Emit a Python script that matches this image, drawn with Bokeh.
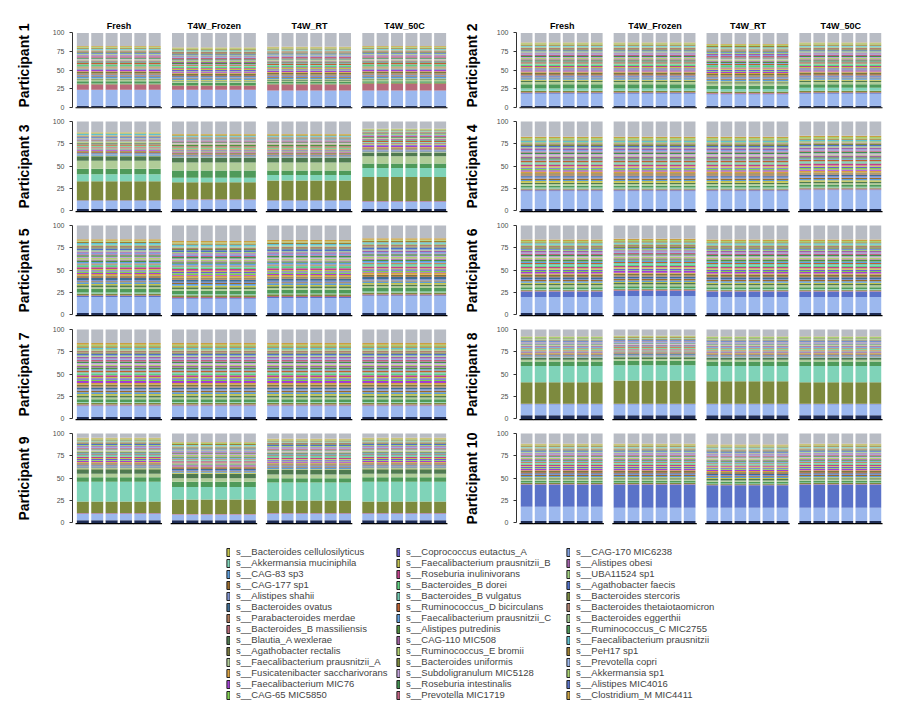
from bokeh.plotting import figure
from bokeh.models import ColumnDataSource, FactorRange, Range1d, Legend, LegendItem, FixedTicker
from bokeh.layouts import gridplot, column
from bokeh.core.properties import value
from bokeh.embed import file_html
from bokeh.resources import INLINE

CONDITIONS = ["Fresh", "T4W_Frozen", "T4W_RT", "T4W_50C"]
REPS = ["1", "2", "3", "4", "5", "6"]
PARTICIPANTS = ["Participant %d" % i for i in range(1, 11)]

# legend species (legend order) and colours
SPECIES = [
    "s__Bacteroides cellulosilyticus", "s__Akkermansia muciniphila", "s__CAG-83 sp3", "s__CAG-177 sp1",
    "s__Alistipes shahii", "s__Bacteroides ovatus", "s__Parabacteroides merdae", "s__Bacteroides_B massiliensis",
    "s__Blautia_A wexlerae", "s__Agathobacter rectalis", "s__Faecalibacterium prausnitzii_A",
    "s__Fusicatenibacter saccharivorans", "s__Faecalibacterium MIC76", "s__CAG-65 MIC5850",
    "s__Coprococcus eutactus_A", "s__Faecalibacterium prausnitzii_B", "s__Roseburia inulinivorans",
    "s__Bacteroides_B dorei", "s__Bacteroides_B vulgatus", "s__Ruminococcus_D bicirculans",
    "s__Faecalibacterium prausnitzii_C", "s__Alistipes putredinis", "s__CAG-110 MIC508",
    "s__Ruminococcus_E bromii", "s__Bacteroides uniformis", "s__Subdoligranulum MIC5128",
    "s__Roseburia intestinalis", "s__Prevotella MIC1719",
    "s__CAG-170 MIC6238", "s__Alistipes obesi", "s__UBA11524 sp1", "s__Agathobacter faecis",
    "s__Bacteroides stercoris", "s__Bacteroides thetaiotaomicron", "s__Bacteroides eggerthii",
    "s__Ruminococcus_C MIC2755", "s__Faecalibacterium prausnitzii", "s__PeH17 sp1", "s__Prevotella copri",
    "s__Akkermansia sp1", "s__Alistipes MIC4016", "s__Clostridium_M MIC4411",
]
COLORS = [
    "#c4c44c", "#7fd3b8", "#5b9bd8", "#9a6b2a", "#7f93d0", "#3f6e94", "#b07a5a", "#b86a7a",
    "#4f7a50", "#7a7a40", "#b0cc98", "#d8a040", "#a040d0", "#80d050",
    "#6b5fd0", "#c0c050", "#c0408a", "#60d080", "#70c8b0", "#c06030", "#60a0e0", "#509040",
    "#a060a0", "#b0d070", "#7d8a3e", "#c0a0d8", "#409050", "#c06080",
    "#80a0e0", "#a060a8", "#a0d080", "#5070c8", "#7a8a40", "#b08070", "#a0c890", "#4f9a5a",
    "#60c0d0", "#a08030", "#9cb8ee", "#a8d070", "#5a72c8", "#c8a040",
]

# stacking order (bottom first): unlabelled low group, 8 major species, then the rest
MAJOR_NAMES = ["s__Prevotella copri", "s__Alistipes MIC4016", "s__Bacteroides_B massiliensis",
               "s__Bacteroides uniformis", "s__Akkermansia muciniphila", "s__Ruminococcus_C MIC2755",
               "s__Faecalibacterium prausnitzii_A", "s__Blautia_A wexlerae"]
MINOR_NAMES = [s for s in SPECIES if s not in MAJOR_NAMES]
LOW_COLOR = "#1f2d55"
OTHER_COLOR = "#b8bcc4"

# major values per participant per condition: [low, copri, MIC4016, massiliensis, uniformis, muciniphila, RumC, FpA, Blautia]
MAJORS = {
    1: [[2, 21, 0.5, 7, 1, 0.5, 3, 1.5, 1], [2, 21, 0.5, 5, 1, 0.5, 3, 1.5, 1], [2, 20, 0.5, 8, 1, 0.5, 2, 1.5, 1], [2, 20, 0.5, 9, 1, 0.5, 2, 1.5, 1]],
    2: [[2, 16, 1, 1, 2, 3, 6, 3, 1.5], [2, 16, 1, 1, 2, 3, 6, 3, 1.5], [2, 15, 1, 1, 2, 3, 5, 3, 1.5], [2, 16, 1, 1, 2, 4, 5, 3, 1.5]],
    3: [[2, 9, 0.5, 0.5, 21, 8, 6, 9, 5], [2, 10, 0.5, 0.5, 19, 5, 8, 9, 5], [2, 9, 0.5, 0.5, 22, 6, 5, 9, 5], [2, 8, 0.5, 0.5, 27, 10, 5, 8, 4]],
    4: [[2, 20, 1, 1, 1, 1, 2, 2, 1.5], [2, 20, 1, 1, 1, 1, 2, 2, 1.5], [2, 20, 1, 1, 1, 1, 2, 2, 1.5], [2, 21, 1, 1, 1, 1, 2, 2, 1.5]],
    5: [[2, 18, 1, 1, 2, 1, 4, 2, 2], [2, 16, 1, 1, 2, 1, 4, 2, 2], [2, 17, 1, 1, 2, 1, 4, 2, 2], [2, 19, 1, 1, 2, 1, 4, 2, 2]],
    6: [[2, 18, 6, 1, 1, 1, 2, 2, 1.5], [2, 19, 6, 1, 1, 1, 2, 2, 1.5], [2, 18, 6, 1, 1, 1, 2, 2, 1.5], [2, 18, 6, 1, 1, 1, 2, 2, 1.5]],
    7: [[2, 12, 1, 1, 2, 1, 3, 2, 2], [2, 12, 1, 1, 2, 1, 3, 2, 2], [2, 12, 1, 1, 2, 1, 3, 2, 2], [2, 12, 1, 1, 2, 1, 3, 2, 2]],
    8: [[4, 12, 0.5, 0.5, 24, 18, 5, 2, 2], [4, 12, 0.5, 0.5, 26, 17, 5, 2, 2], [4, 12, 0.5, 0.5, 25, 17, 5, 2, 2], [4, 12, 0.5, 0.5, 24, 18, 5, 2, 2]],
    9: [[3, 7, 0.5, 0.5, 13, 22, 5, 4, 5], [3, 6, 0.5, 0.5, 16, 14, 6, 4, 5], [3, 7, 0.5, 0.5, 14, 20, 5, 4, 5], [3, 7, 0.5, 0.5, 13, 22, 5, 4, 5]],
    10: [[2, 16, 25, 0.5, 1, 0.5, 2, 1.5, 1.5], [2, 15, 26, 0.5, 1, 0.5, 2, 1.5, 1.5], [2, 15, 25, 0.5, 1, 0.5, 2, 1.5, 1.5], [2, 15, 26, 0.5, 1, 0.5, 2, 1.5, 1.5]],
}

# minor species values per participant (MINOR_NAMES order)
MINORS = {
    1: [1.2,1.8,1.0,1.5,0.8,1.6,2.0,1.1,1.4,0.9,1.3,1.7,1.0,1.9,1.2,1.5,0.8,1.4,1.1,1.6,1.0,1.3,1.8,1.2,0.9,1.5,1.1,1.4,1.7,1.0,1.3,1.6,1.2,1.0],
    2: [1.4,2.0,1.2,1.7,1.0,1.8,2.2,1.3,1.6,1.1,1.5,1.9,1.2,2.1,1.4,1.7,1.0,1.6,1.3,1.8,1.2,1.5,2.0,1.4,1.1,1.7,1.3,1.6,1.9,1.2,1.5,1.8,1.4,1.2],
    3: [0.6,1.0,0.5,0.9,0.7,1.2,0.8,0.6,1.1,0.5,0.9,1.0,0.7,0.8,0.6,1.2,0.5,0.9,0.7,1.0,0.6,0.8,1.1,0.7,0.5,0.9,0.8,0.6,1.0,0.7,0.9,0.6,0.8,0.7],
    4: [1.8,1.2,1.6,2.0,1.3,1.5,1.1,1.9,1.4,1.7,1.2,1.6,2.1,1.0,1.5,1.8,1.3,1.4,1.9,1.1,1.6,1.7,1.2,1.5,2.0,1.3,1.4,1.8,1.1,1.6,1.5,1.2,1.7,1.4],
    5: [1.5,1.9,1.1,1.6,2.2,1.2,1.4,1.8,1.0,1.7,1.5,1.3,2.0,1.4,1.6,1.1,1.9,1.5,1.2,1.8,1.4,1.6,1.0,1.7,1.5,1.3,2.1,1.2,1.6,1.4,1.8,1.5,1.1,1.7],
    6: [1.3,1.7,1.5,1.1,1.9,1.4,1.6,1.2,1.8,1.0,1.5,1.7,1.3,1.4,2.0,1.2,1.6,1.5,1.1,1.8,1.3,1.4,1.7,1.2,1.6,1.5,1.0,1.9,1.4,1.3,1.6,1.2,1.5,1.4],
    7: [1.8,2.1,1.5,1.7,2.0,1.4,1.9,1.6,2.2,1.5,1.8,1.3,2.0,1.7,1.6,1.9,1.4,2.1,1.5,1.8,1.7,1.6,2.0,1.4,1.9,1.5,1.8,1.6,1.7,2.0,1.5,1.8,1.6,1.9],
    8: [0.6,0.8,0.5,0.9,0.7,0.6,1.0,0.5,0.8,0.7,0.6,0.9,0.5,0.8,0.7,1.0,0.6,0.5,0.8,0.7,0.9,0.6,0.5,0.8,0.7,0.6,0.9,0.7,0.5,0.8,0.6,0.7,0.9,0.6],
    9: [1.0,1.3,0.8,1.1,0.9,1.2,1.0,0.8,1.4,0.9,1.1,1.0,1.3,0.8,1.2,0.9,1.0,1.1,0.8,1.3,1.0,0.9,1.2,1.1,0.8,1.0,1.3,0.9,1.1,1.0,0.8,1.2,1.0,0.9],
    10: [1.1,1.4,0.9,1.2,1.0,1.3,1.1,0.9,1.5,1.0,1.2,1.1,1.4,0.9,1.3,1.0,1.1,1.2,0.9,1.4,1.1,1.0,1.3,1.2,0.9,1.1,1.4,1.0,1.2,1.1,0.9,1.3,1.1,1.0],
}

FONT = "Liberation Sans"
color_of = dict(zip(SPECIES, COLORS))
stack_colors = [LOW_COLOR] + [color_of[s] for s in MAJOR_NAMES] + [color_of[s] for s in MINOR_NAMES] + [OTHER_COLOR]
keys = ["c%d" % i for i in range(len(stack_colors))]

factors = [(c, r) for c in CONDITIONS for r in REPS]


def make_panel(pi, top_row, left_col):
    data = {"x": factors}
    for k in keys:
        data[k] = []
    for ci, c in enumerate(CONDITIONS):
        vals = MAJORS[pi][ci] + MINORS[pi]
        vals = vals + [max(0.0, 100.0 - sum(vals))]
        for r in REPS:
            for k, v in zip(keys, vals):
                data[k].append(v)
    data["base_top"] = [0.0] * len(factors)
    data["base_bot"] = [-1.8] * len(factors)
    src = ColumnDataSource(data)
    w = 460 if left_col else 428
    ytop = 114 if top_row else 101
    h = 116 if top_row else 104
    p = figure(x_range=FactorRange(*factors, group_padding=0.75, factor_padding=0.08, range_padding=0.02),
               y_range=Range1d(-1.8, ytop), width=w, height=h,
               output_backend="svg", toolbar_location=None,
               min_border_left=72 if left_col else 49, min_border_right=10 if left_col else 3,
               min_border_top=22 if top_row else 4, min_border_bottom=8)
    p.vbar_stack(keys, x="x", width=0.9, source=src, color=stack_colors, line_color=None)
    p.vbar(x="x", top="base_top", bottom="base_bot", width=1.1, source=src, color="black", line_color=None)
    if top_row:
        p.text(x=[(c, "3") for c in CONDITIONS], y=[109] * 4, text=CONDITIONS, x_offset=7.5,
               text_align="center", text_baseline="middle", text_font=value(FONT),
               text_font_size="9px", text_font_style="bold", text_color="black")
    p.xaxis.visible = False
    p.xgrid.visible = False
    p.ygrid.visible = False
    p.outline_line_color = None
    p.yaxis.ticker = FixedTicker(ticks=[0, 25, 50, 75, 100])
    p.yaxis.bounds = (0, 100)
    p.yaxis.axis_line_color = "#333333"
    p.yaxis.axis_line_width = 1
    p.yaxis.major_tick_line_color = "#333333"
    p.yaxis.major_tick_out = 3
    p.yaxis.major_tick_in = 0
    p.yaxis.minor_tick_line_color = None
    p.yaxis.major_label_text_font_size = "7px"
    p.yaxis.major_label_text_color = "#4d4d4d"
    p.yaxis.major_label_text_font = FONT
    p.yaxis.axis_label = PARTICIPANTS[pi - 1]
    p.yaxis.axis_label_text_font = FONT
    p.yaxis.axis_label_text_font_size = "14px"
    p.yaxis.axis_label_text_font_style = "bold"
    p.yaxis.axis_label_text_color = "black"
    p.yaxis.axis_label_standoff = 18 if left_col else 14
    return p


rows = []
for r in range(5):
    rows.append([make_panel(2 * r + 1, r == 0, True), make_panel(2 * r + 2, r == 0, False)])
grid = gridplot(rows, toolbar_location=None)

lg = figure(width=900, height=172, output_backend="svg", toolbar_location=None,
            x_range=Range1d(0, 1), y_range=Range1d(0, 1), min_border=0)
lg.axis.visible = False
lg.grid.visible = False
lg.outline_line_color = None
items = []
for s, c in zip(SPECIES, COLORS):
    rr = lg.vbar(x=[0.5], top=[0], width=0, color=c, line_color="#222222", line_width=1)
    items.append(LegendItem(label=s, renderers=[rr]))
legend = Legend(items=items, ncols=3, location=(226, 4), label_text_font=FONT, label_text_font_size="9.5px",
                label_height=9, glyph_height=10, glyph_width=4, label_standoff=6, spacing=0,
                label_width=160, padding=0, border_line_color=None, background_fill_alpha=0,
                orientation="vertical")
lg.add_layout(legend, "center")

layout = column(grid, lg, spacing=0)
open("out.html", "w").write(file_html(layout, INLINE))
